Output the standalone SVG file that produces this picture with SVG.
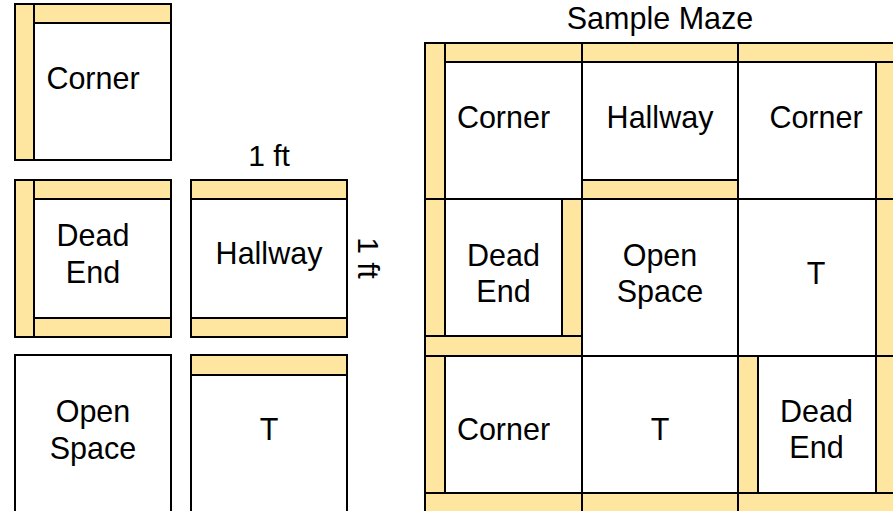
<svg xmlns="http://www.w3.org/2000/svg" width="893" height="511" viewBox="0 0 893 511">
<style>
.cell{fill:#fff;stroke:#000;stroke-width:2}
.wall{fill:#FFE6A0;stroke:#000;stroke-width:2}
text{font-family:"Liberation Sans",Arial,sans-serif;font-size:30.5px;fill:#000;text-anchor:middle}
</style>
<rect width="893" height="511" fill="#fff"/>
<!-- Standalone tiles -->
<g id="tile-corner">
<rect class="cell" x="15" y="4" width="156" height="156"/>
<rect class="wall" x="15" y="4" width="19" height="156"/>
<rect class="wall" x="34" y="4" width="137" height="19"/>
<text x="93" y="89">Corner</text>
</g>
<g id="tile-deadend">
<rect class="cell" x="15" y="180" width="156" height="157"/>
<rect class="wall" x="15" y="180" width="19" height="157"/>
<rect class="wall" x="34" y="180" width="137" height="19"/>
<rect class="wall" x="34" y="318" width="137" height="19"/>
<text x="93" y="246">Dead</text>
<text x="93" y="282.5">End</text>
</g>
<g id="tile-hallway">
<rect class="cell" x="191" y="180" width="156" height="157"/>
<rect class="wall" x="191" y="180" width="156" height="19"/>
<rect class="wall" x="191" y="318" width="156" height="19"/>
<text x="269" y="264">Hallway</text>
</g>
<g id="tile-openspace">
<rect class="cell" x="15" y="355" width="156" height="160"/>
<text x="93" y="422">Open</text>
<text x="93" y="458.5">Space</text>
</g>
<g id="tile-t">
<rect class="cell" x="191" y="355" width="156" height="160"/>
<rect class="wall" x="191" y="355" width="156" height="20"/>
<text x="269" y="440">T</text>
</g>
<g id="dimensions">
<text x="269" y="166" style="font-size:30px">1 ft</text>
<text transform="translate(358,258) rotate(90)" x="0" y="0" style="font-size:30px">1 ft</text>
</g>
<!-- Sample maze -->
<g id="maze-title"><text x="660" y="29">Sample Maze</text></g>
<g id="maze-r0c0">
<rect class="cell" x="425" y="43" width="157" height="156"/>
<rect class="wall" x="425" y="43" width="20" height="156"/>
<rect class="wall" x="445" y="43" width="137" height="19"/>
<text x="503.5" y="128">Corner</text>
</g>
<g id="maze-r0c1">
<rect class="cell" x="582" y="43" width="156" height="156"/>
<rect class="wall" x="582" y="43" width="156" height="19"/>
<rect class="wall" x="582" y="180" width="156" height="19"/>
<text x="660" y="128">Hallway</text>
</g>
<g id="maze-r0c2">
<rect class="cell" x="738" y="43" width="158" height="156"/>
<rect class="wall" x="738" y="43" width="158" height="19"/>
<rect class="wall" x="876" y="62" width="20" height="137"/>
<text x="816" y="128">Corner</text>
</g>
<g id="maze-r1c0">
<rect class="cell" x="425" y="199" width="157" height="157"/>
<rect class="wall" x="425" y="199" width="20" height="137"/>
<rect class="wall" x="562" y="199" width="20" height="137"/>
<rect class="wall" x="425" y="336" width="157" height="20"/>
<text x="503.5" y="266">Dead</text>
<text x="503.5" y="302">End</text>
</g>
<g id="maze-r1c1">
<rect class="cell" x="582" y="199" width="156" height="157"/>
<text x="660" y="266">Open</text>
<text x="660" y="302">Space</text>
</g>
<g id="maze-r1c2">
<rect class="cell" x="738" y="199" width="158" height="157"/>
<rect class="wall" x="876" y="199" width="20" height="157"/>
<text x="816" y="284">T</text>
</g>
<g id="maze-r2c0">
<rect class="cell" x="425" y="356" width="157" height="158"/>
<rect class="wall" x="425" y="356" width="20" height="137"/>
<rect class="wall" x="425" y="493" width="157" height="21"/>
<text x="503.5" y="440">Corner</text>
</g>
<g id="maze-r2c1">
<rect class="cell" x="582" y="356" width="156" height="158"/>
<rect class="wall" x="582" y="493" width="156" height="21"/>
<text x="660" y="440">T</text>
</g>
<g id="maze-r2c2">
<rect class="cell" x="738" y="356" width="158" height="158"/>
<rect class="wall" x="738" y="356" width="20" height="137"/>
<rect class="wall" x="876" y="356" width="20" height="137"/>
<rect class="wall" x="738" y="493" width="158" height="21"/>
<text x="816.5" y="422">Dead</text>
<text x="816.5" y="458">End</text>
</g>
<g id="connectors"></g>
</svg>
